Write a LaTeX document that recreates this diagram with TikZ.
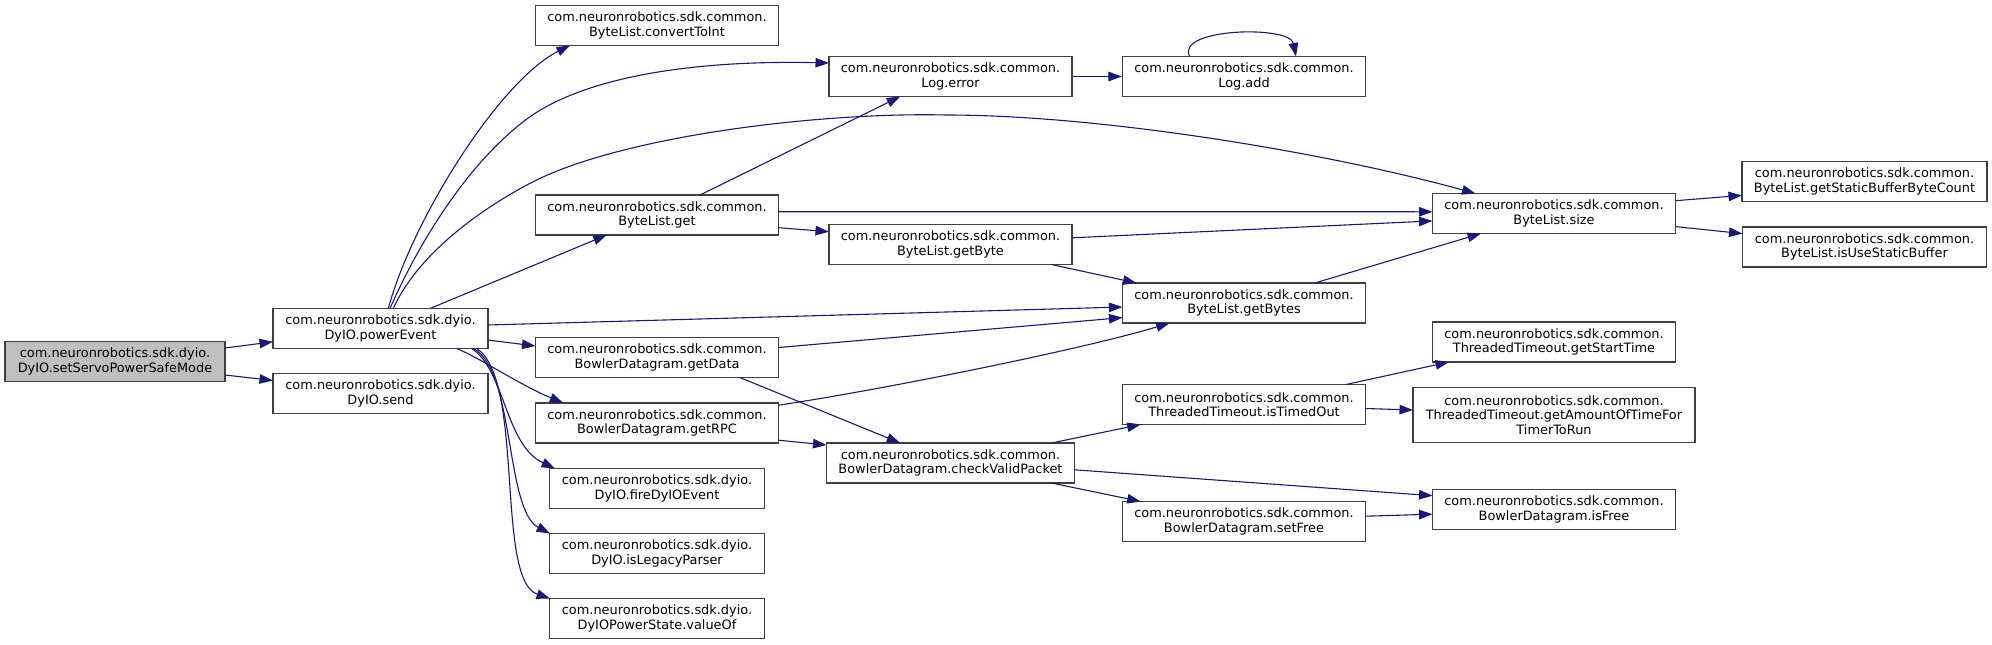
\documentclass[tikz,border=0pt]{standalone}
\usepackage{fontspec}
\setmainfont{DejaVu Sans}
\usetikzlibrary{arrows.meta,calc}
\definecolor{edgec}{HTML}{191970}
\definecolor{boxc}{HTML}{404040}
\definecolor{rootc}{HTML}{BFBFBF}
\begin{document}
\begin{tikzpicture}[x=1pt,y=-1pt,
  box/.style={draw=boxc, line width=1.3pt, fill=white, minimum height=40pt, minimum width=243pt, inner sep=0pt, align=center, font=\fontsize{12.9}{14.4}\selectfont},
  e/.style={draw=edgec, line width=1.1pt, -{Triangle[length=13.5pt,width=9.5pt]}}]
\useasboundingbox (0,0) rectangle (1992,645);
% column 0
\node[box, minimum width=220pt, fill=rootc] (n0) at (115,361.5) {com.neuronrobotics.sdk.dyio.\\DyIO.setServoPowerSafeMode};
% column 1
\node[box, minimum width=215pt] (pe) at (380.5,328.5) {com.neuronrobotics.sdk.dyio.\\DyIO.powerEvent};
\node[box, minimum width=215pt] (send) at (380.5,393.5) {com.neuronrobotics.sdk.dyio.\\DyIO.send};
% column 2
\node[box] (cti) at (657,25.5) {com.neuronrobotics.sdk.common.\\ByteList.convertToInt};
\node[box] (get) at (657,215) {com.neuronrobotics.sdk.common.\\ByteList.get};
\node[box] (gd) at (657,357.5) {com.neuronrobotics.sdk.common.\\BowlerDatagram.getData};
\node[box] (grpc) at (657,423) {com.neuronrobotics.sdk.common.\\BowlerDatagram.getRPC};
\node[box, minimum width=215pt] (fire) at (657,488.5) {com.neuronrobotics.sdk.dyio.\\DyIO.fireDyIOEvent};
\node[box, minimum width=215pt] (legacy) at (657,553.5) {com.neuronrobotics.sdk.dyio.\\DyIO.isLegacyParser};
\node[box, minimum width=215pt] (vof) at (657,618.5) {com.neuronrobotics.sdk.dyio.\\DyIOPowerState.valueOf};
% column 3
\node[box] (lerr) at (950.5,76.5) {com.neuronrobotics.sdk.common.\\Log.error};
\node[box] (gbyte) at (950.5,244.5) {com.neuronrobotics.sdk.common.\\ByteList.getByte};
\node[box, minimum width=248pt] (cvp) at (950.5,463) {com.neuronrobotics.sdk.common.\\BowlerDatagram.checkValidPacket};
% column 4
\node[box] (ladd) at (1244,76.5) {com.neuronrobotics.sdk.common.\\Log.add};
\node[box] (gbytes) at (1244,303) {com.neuronrobotics.sdk.common.\\ByteList.getBytes};
\node[box] (itmo) at (1244,404.5) {com.neuronrobotics.sdk.common.\\ThreadedTimeout.isTimedOut};
\node[box] (sfree) at (1244,521.5) {com.neuronrobotics.sdk.common.\\BowlerDatagram.setFree};
% column 5
\node[box] (size) at (1554,213.5) {com.neuronrobotics.sdk.common.\\ByteList.size};
\node[box] (gst) at (1554,342) {com.neuronrobotics.sdk.common.\\ThreadedTimeout.getStartTime};
\node[box, minimum width=282pt, minimum height=55pt] (gat) at (1554,415) {com.neuronrobotics.sdk.common.\\ThreadedTimeout.getAmountOfTimeFor\\TimerToRun};
\node[box] (isfree) at (1554,509.5) {com.neuronrobotics.sdk.common.\\BowlerDatagram.isFree};
% column 6
\node[box, minimum width=245pt] (gsbbc) at (1864.5,181.5) {com.neuronrobotics.sdk.common.\\ByteList.getStaticBufferByteCount};
\node[box, minimum width=244pt] (iusb) at (1864.5,247) {com.neuronrobotics.sdk.common.\\ByteList.isUseStaticBuffer};
% edges
\draw[e] ($(n0)+(110,-13.5)$) -- ($(pe)+(-107.5,13.3)$);
\draw[e] ($(n0)+(110,13.5)$) -- ($(send)+(-107.5,-13)$);
\draw[e] ($(pe)+(7.8,-20)$) .. controls (412,220) and (500,80) .. ($(cti)+(-87,20)$);
\draw[e] ($(pe)+(9.5,-20)$) .. controls (420,240) and (470,160) .. (530,116.7) .. controls (590,75) and (700,60) .. ($(lerr)+(-121.5,-13.5)$);
\draw[e] ($(pe)+(12.8,-20)$) .. controls (415,260) and (470,215) .. (530,183.3) .. controls (620,136) and (820,112) .. (946,115) .. controls (1100,115) and (1325,152) .. ($(size)+(-78.5,-20)$);
\draw[e] ($(pe)+(49.5,-20)$) -- ($(get)+(-50.3,20)$);
\draw[e] ($(pe)+(107.5,-3.5)$) -- ($(gbytes)+(-121.5,4)$);
\draw[e] ($(pe)+(107.5,11.5)$) -- ($(gd)+(-121.5,-11.5)$);
\draw[e] ($(pe)+(76.2,20)$) .. controls (480,358) and (520,385) .. ($(grpc)+(-93.7,-20)$);
\draw[e] ($(pe)+(91.2,20)$) .. controls (505,370) and (505,445) .. ($(fire)+(-102,-20)$);
\draw[e] ($(pe)+(92.8,20)$) .. controls (515,370) and (505,510) .. ($(legacy)+(-107,-20)$);
\draw[e] ($(pe)+(96.2,20)$) .. controls (525,380) and (495,580) .. ($(vof)+(-107,-20)$);
\draw[e] ($(get)+(43,-20)$) -- ($(lerr)+(-50.3,20)$);
\draw[e] ($(get)+(121.5,-3.3)$) -- ($(size)+(-121.5,-1.7)$);
\draw[e] ($(get)+(121.5,12.7)$) -- ($(gbyte)+(-121.5,-12.8)$);
\draw[e] ($(gbyte)+(121.5,-6.7)$) -- ($(size)+(-121.5,7.4)$);
\draw[e] ($(gbyte)+(101,20)$) -- ($(gbytes)+(-107.5,-20)$);
\draw[e] ($(gbytes)+(70.8,-20)$) -- ($(size)+(-73,20)$);
\draw[e] ($(gd)+(121.5,-10)$) -- ($(gbytes)+(-121.5,14.6)$);
\draw[e] ($(gd)+(82.8,20)$) -- ($(cvp)+(-50.3,-20)$);
\draw[e] ($(grpc)+(121.5,-17.8)$) .. controls (880,390) and (1080,350) .. ($(gbytes)+(-74.3,20)$);
\draw[e] ($(grpc)+(121.5,17.2)$) -- ($(cvp)+(-124,-18)$);
\draw[e] ($(cvp)+(101,-20)$) -- ($(itmo)+(-103.3,20)$);
\draw[e] ($(cvp)+(124,6.8)$) -- ($(isfree)+(-121.5,-13.8)$);
\draw[e] ($(cvp)+(101,20)$) -- ($(sfree)+(-103.3,-20)$);
\draw[e] ($(sfree)+(121.5,-5.3)$) -- ($(isfree)+(-121.5,4.7)$);
\draw[e] ($(itmo)+(121.5,4)$) -- ($(gat)+(-141,-5)$);
\draw[e] ($(itmo)+(102,-20)$) -- ($(gst)+(-105,20)$);
\draw[e] ($(size)+(121.5,-12.8)$) -- ($(gsbbc)+(-122.5,13.9)$);
\draw[e] ($(size)+(121.5,13.1)$) -- ($(iusb)+(-122,-13.4)$);
\draw[e] (lerr.east) -- (ladd.west);
\draw[e] ($(ladd)+(-54.4,-20)$) .. controls (1175,28) and (1290,25) .. ($(ladd)+(52,-20)$);
\end{tikzpicture}
\end{document}
